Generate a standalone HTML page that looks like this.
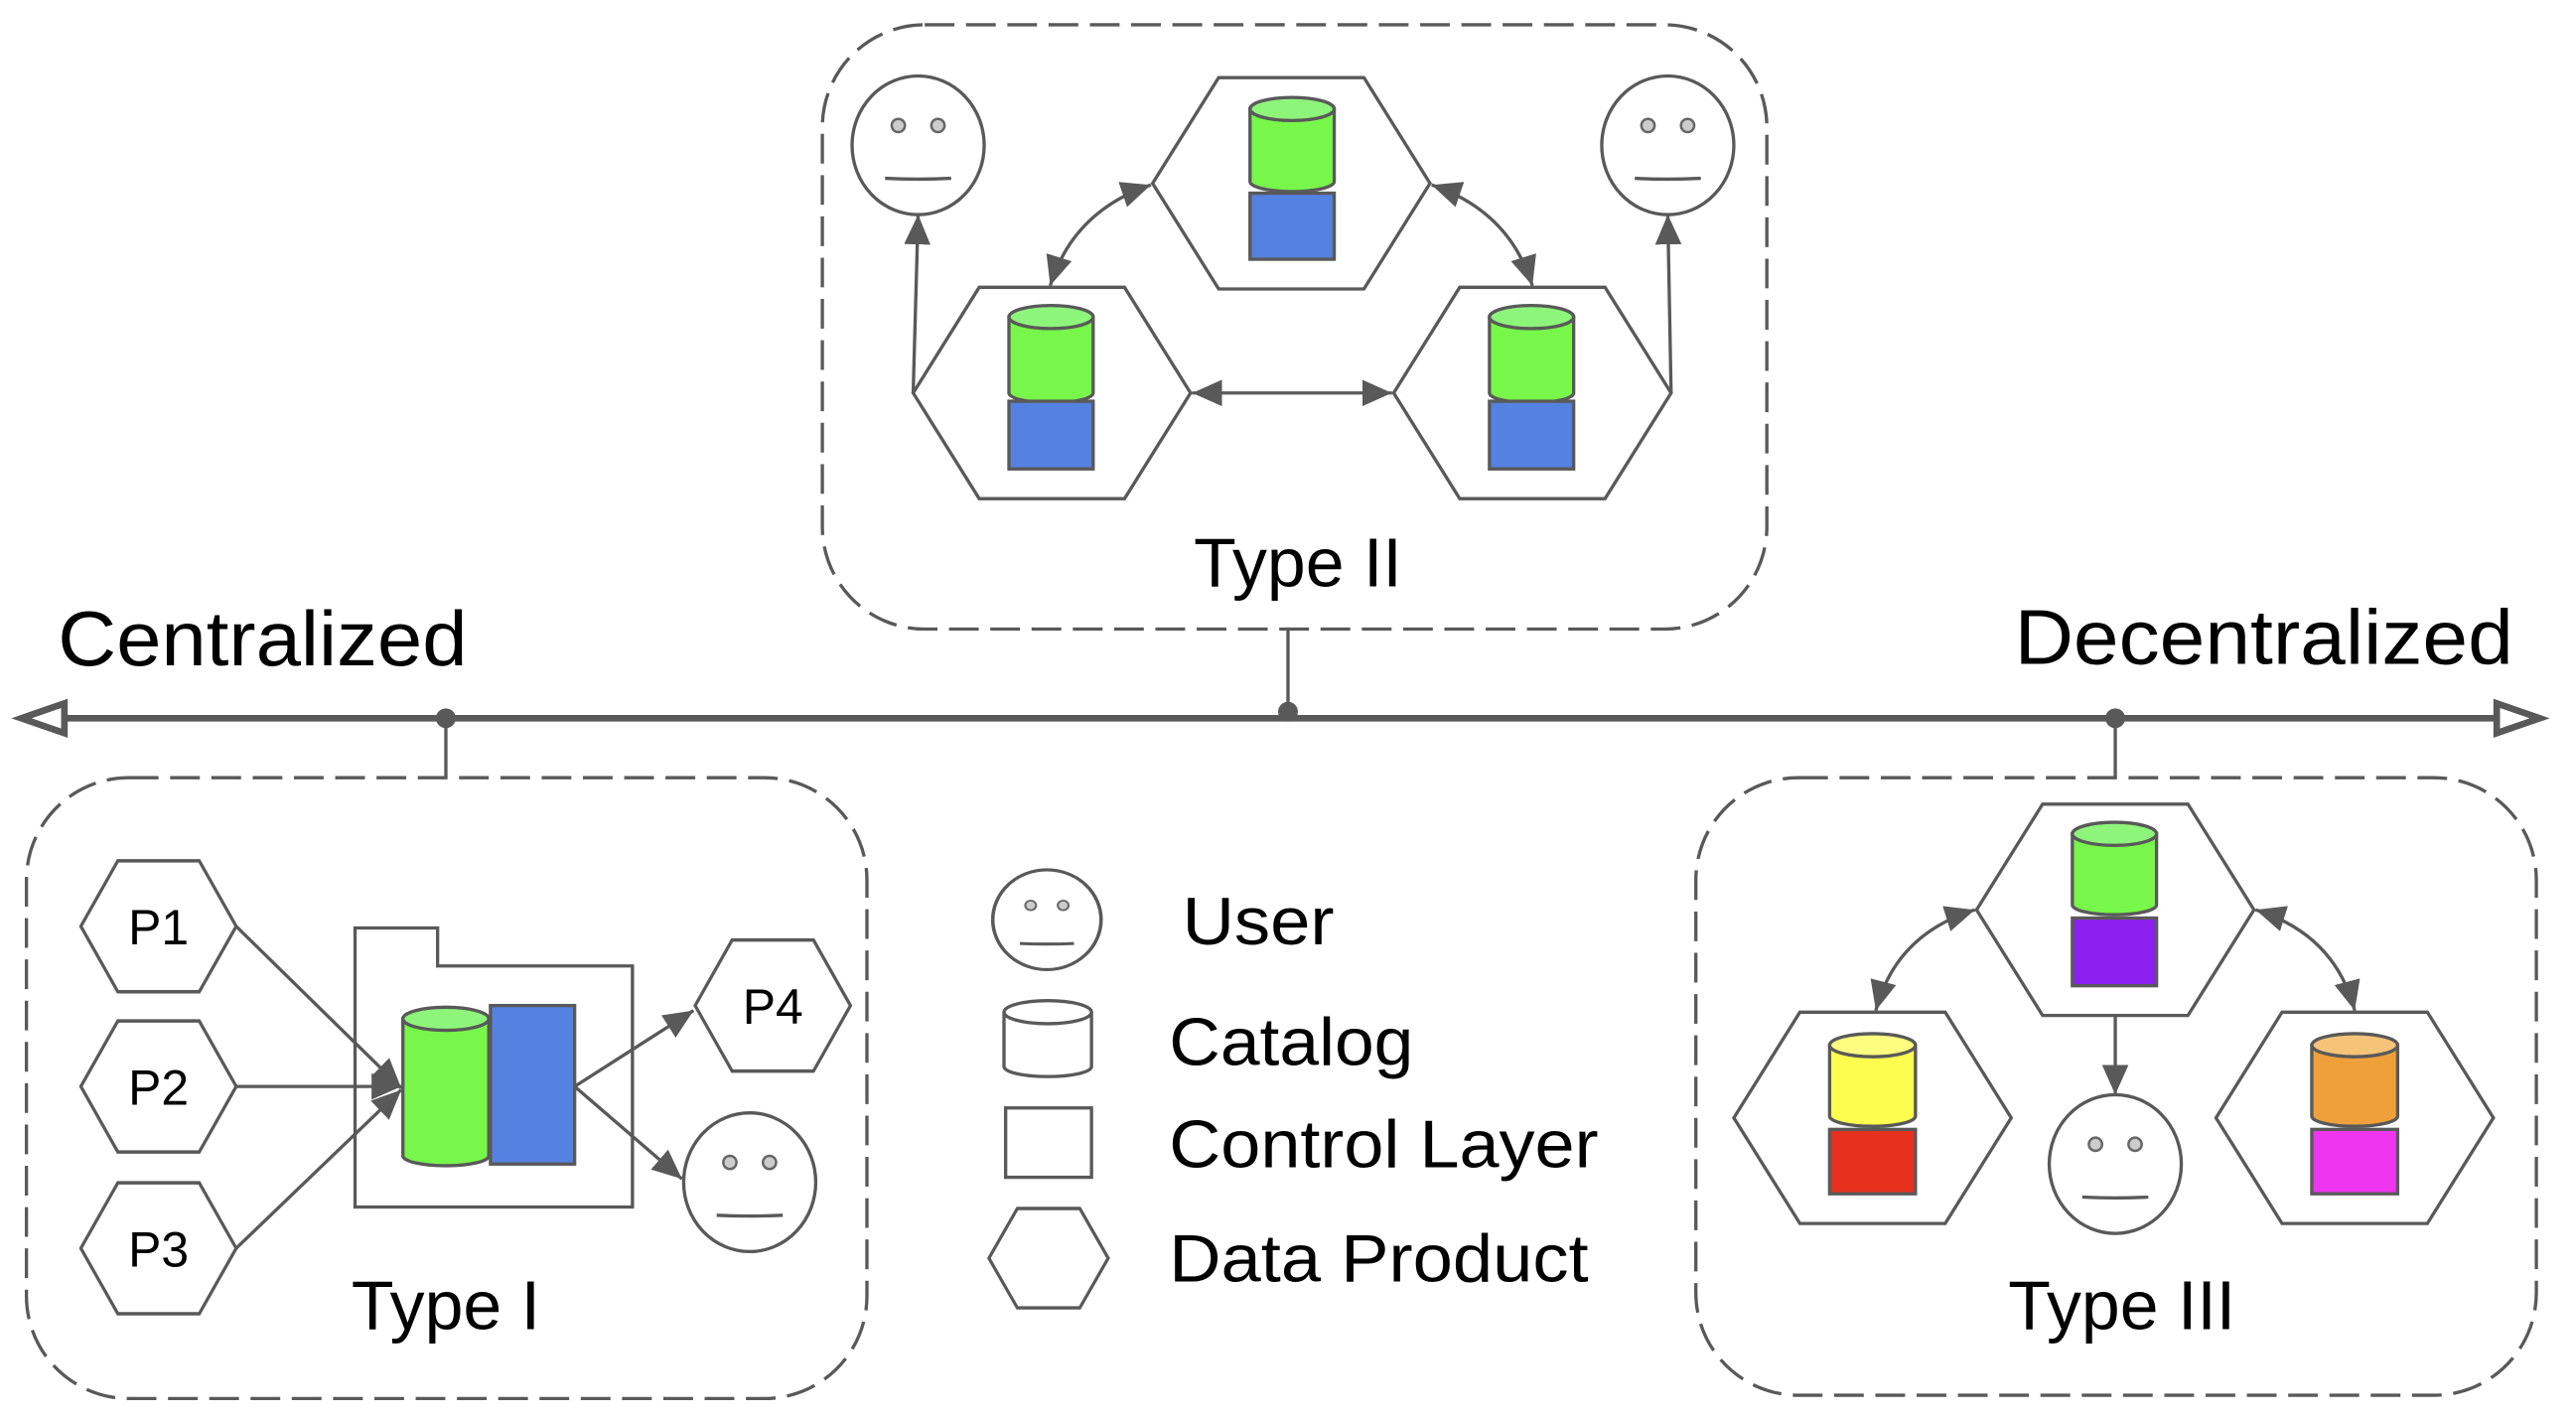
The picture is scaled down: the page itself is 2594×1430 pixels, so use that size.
<!DOCTYPE html>
<html><head><meta charset="utf-8"><style>
html,body{margin:0;padding:0;background:#fff}
svg{display:block}
text{font-family:"Liberation Sans",Arial,sans-serif;fill:#000}
</style></head><body>
<svg width="2594" height="1430" viewBox="0 0 1560 860" xmlns="http://www.w3.org/2000/svg">
<defs>
<marker id="a" markerUnits="userSpaceOnUse" markerWidth="20" markerHeight="16" refX="18" refY="8" orient="auto-start-reverse">
<path d="M0,0 L18,8 L0,16 z" fill="#595959"/>
</marker>
<g id="face"><ellipse cx="0" cy="0" rx="40" ry="42" fill="#fff" stroke="#595959"/>
<circle cx="-12" cy="-12" r="4" fill="#ccc" stroke="#666" stroke-width="1.5"/><circle cx="12" cy="-12" r="4" fill="#ccc" stroke="#666" stroke-width="1.5"/>
<path d="M-20,20 Q0,21 20,20" fill="none" stroke="#595959"/></g>
<polygon id="hex" points="-84,0 -44,-64 44,-64 84,0 44,64 -44,64" fill="#fff" stroke="#595959"/>
</defs>

<!-- axis -->
<line x1="38" y1="435" x2="1514" y2="435" stroke="#595959" stroke-width="4"/>
<polygon points="13,435 39,426 39,444" fill="#fff" stroke="#595959" stroke-width="4"/>
<polygon points="1538,435 1512,426 1512,444" fill="#fff" stroke="#595959" stroke-width="4"/>
<circle cx="270" cy="435" r="6" fill="#595959"/>
<circle cx="780" cy="431" r="6" fill="#595959"/>
<circle cx="1281" cy="435" r="6" fill="#595959"/>
<line x1="270" y1="435" x2="270" y2="471" stroke="#595959" stroke-width="2"/>
<line x1="780" y1="381" x2="780" y2="431" stroke="#595959" stroke-width="2"/>
<line x1="1281" y1="435" x2="1281" y2="471" stroke="#595959" stroke-width="2"/>
<text x="35" y="403" font-size="47" textLength="248" lengthAdjust="spacingAndGlyphs">Centralized</text>
<text x="1220" y="402" font-size="47" textLength="302" lengthAdjust="spacingAndGlyphs">Decentralized</text>

<!-- boxes -->
<g fill="none" stroke="#595959" stroke-width="2" stroke-dasharray="18,7">
<rect x="498" y="15" width="572" height="366" rx="62"/>
<rect x="16" y="471" width="509" height="376" rx="62"/>
<rect x="1027" y="471" width="509" height="374" rx="62"/>
</g>

<!-- Type II -->
<g stroke-width="2">
<use href="#face" x="556" y="88"/>
<use href="#face" x="1010" y="88"/>
<use href="#hex" x="782" y="111"/>
<use href="#hex" x="637" y="238"/>
<use href="#hex" x="928" y="238"/>
</g>
<g stroke="#595959" stroke-width="2">
<path d="M757,66 V110 A25.5,6 0 0 0 808,110 V66 z" fill="#77f74a"/><ellipse cx="782.5" cy="66" rx="25.5" ry="7" fill="#8df57a"/>
<rect x="757" y="117" width="51" height="40" fill="#5582e0"/>
<path d="M611,192 V238 A25.5,6 0 0 0 662,238 V192 z" fill="#77f74a"/><ellipse cx="636.5" cy="192" rx="25.5" ry="7" fill="#8df57a"/>
<rect x="611" y="243" width="51" height="41" fill="#5582e0"/>
<path d="M902,192 V238 A25.5,6 0 0 0 953,238 V192 z" fill="#77f74a"/><ellipse cx="927.5" cy="192" rx="25.5" ry="7" fill="#8df57a"/>
<rect x="902" y="243" width="51" height="41" fill="#5582e0"/>
</g>
<g stroke="#595959" stroke-width="2" fill="none">
<path d="M553,238 L556,130" marker-end="url(#a)"/>
<path d="M1012,238 L1010,130" marker-end="url(#a)"/>
<path d="M636,173 Q650,128 697,112" marker-start="url(#a)" marker-end="url(#a)"/>
<path d="M867,112 Q914,128 928,173" marker-start="url(#a)" marker-end="url(#a)"/>
<path d="M722,238 L843,238" marker-start="url(#a)" marker-end="url(#a)"/>
</g>
<text x="786" y="355" font-size="42" text-anchor="middle">Type II</text>

<!-- Type I -->
<g stroke-width="3.4">
<g transform="translate(96,561) scale(0.56,0.62)"><use href="#hex"/></g>
<g transform="translate(96,658) scale(0.56,0.62)"><use href="#hex"/></g>
<g transform="translate(96,756) scale(0.56,0.62)"><use href="#hex"/></g>
<g transform="translate(468,609) scale(0.56,0.62)"><use href="#hex"/></g>
</g>
<g font-size="30" text-anchor="middle"><text x="96" y="572">P1</text><text x="96" y="669">P2</text><text x="96" y="767">P3</text><text x="468" y="620">P4</text></g>
<polygon points="215,562 265,562 265,585 383,585 383,731 215,731" fill="#fff" stroke="#595959" stroke-width="2"/>
<g stroke="#595959" stroke-width="2">
<path d="M244,617 V700 A26,6 0 0 0 296,700 V617 z" fill="#77f74a"/><ellipse cx="270" cy="617" rx="26" ry="7" fill="#8df57a"/>
<rect x="297" y="609" width="51" height="96" fill="#5582e0"/>
</g>
<use href="#face" x="454" y="716" stroke-width="2"/>
<g stroke="#595959" stroke-width="2" fill="none">
<path d="M143,561 L243,659" marker-end="url(#a)"/>
<path d="M143,658 L243,658" marker-end="url(#a)"/>
<path d="M143,756 L243,660" marker-end="url(#a)"/>
<path d="M348,658 L420,612" marker-end="url(#a)"/>
<path d="M348,658 L413,714" marker-end="url(#a)"/>
</g>
<text x="270" y="805" font-size="42" text-anchor="middle">Type I</text>

<!-- Legend -->
<g transform="translate(634,557) scale(0.82,0.72)" stroke-width="2.6"><use href="#face"/></g>
<g stroke="#595959" stroke-width="2" fill="#fff">
<path d="M608,613 V646 A26.5,6 0 0 0 661,646 V613"/><ellipse cx="634.5" cy="613" rx="26.5" ry="7"/>
<rect x="609" y="671" width="52" height="42"/>
</g>
<g transform="translate(635,762) scale(0.43,0.47)" stroke-width="4.4"><use href="#hex"/></g>
<g font-size="41">
<text x="716" y="572" textLength="92" lengthAdjust="spacingAndGlyphs">User</text>
<text x="708" y="645" textLength="148" lengthAdjust="spacingAndGlyphs">Catalog</text>
<text x="708" y="707" textLength="260" lengthAdjust="spacingAndGlyphs">Control Layer</text>
<text x="708" y="776" textLength="254" lengthAdjust="spacingAndGlyphs">Data Product</text>
</g>

<!-- Type III -->
<g stroke-width="2">
<use href="#hex" x="1281" y="551"/>
<use href="#hex" x="1134" y="677"/>
<use href="#hex" x="1426" y="677"/>
<use href="#face" x="1281" y="705"/>
</g>
<g stroke="#595959" stroke-width="2">
<path d="M1255,505 V548 A25.5,6 0 0 0 1306,548 V505 z" fill="#77f74a"/><ellipse cx="1280.5" cy="505" rx="25.5" ry="7" fill="#8df57a"/>
<rect x="1255" y="556" width="51" height="41" fill="#8a1ff0"/>
<path d="M1108,633 V676 A25.5,6 0 0 0 1160,676 V633 z" fill="#fdfd50"/><ellipse cx="1134" cy="633" rx="26" ry="7" fill="#fdfd80"/>
<rect x="1108" y="684" width="52" height="39" fill="#e8301e"/>
<path d="M1400,633 V676 A25.5,6 0 0 0 1452,676 V633 z" fill="#f0a03a"/><ellipse cx="1426" cy="633" rx="26" ry="7" fill="#f5c478"/>
<rect x="1400" y="684" width="52" height="39" fill="#f035f0"/>
</g>
<g stroke="#595959" stroke-width="2" fill="none">
<path d="M1281,614 L1281,663" marker-end="url(#a)"/>
<path d="M1136,612 Q1148,566 1196,551" marker-start="url(#a)" marker-end="url(#a)"/>
<path d="M1366,551 Q1414,566 1426,612" marker-start="url(#a)" marker-end="url(#a)"/>
</g>
<text x="1285" y="805" font-size="42" text-anchor="middle">Type III</text>
</svg>
</body></html>
